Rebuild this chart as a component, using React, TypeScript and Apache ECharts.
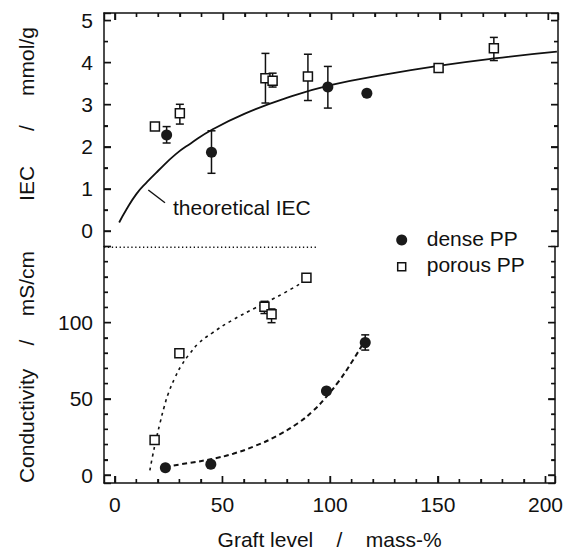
import React, { useEffect, useRef } from 'react';
import * as echarts from 'echarts';

// ---- axis ranges and tick values ----
const X_MIN = -5;
const X_MAX = 204.5;
const IEC_MIN = -0.37;
const IEC_MAX = 5.18;
const COND_MIN = -5.25;
const COND_MAX = 150;
const xTickValues = [0, 50, 100, 150, 200];
const xMinorTickValues = [10, 20, 30, 40, 60, 70, 80, 90, 110, 120, 130, 140, 160, 170, 180, 190];
const iecTickValues = [0, 1, 2, 3, 4, 5];
const iecMinorTickValues = [0.5, 1.5, 2.5, 3.5, 4.5];
const condTickValues = [0, 50, 100];
const condMinorTickValues = [10, 20, 30, 40, 60, 70, 80, 90, 110, 120, 130, 140];

// ---- data: [graft level, value, error low, error high] ----
const denseIEC = [
  [23.9, 2.28, 2.09, 2.48],
  [44.6, 1.87, 1.37, 2.38],
  [98.3, 3.42, 2.92, 3.91],
  [116.3, 3.27, null, null],
];
const porousIEC = [
  [18.5, 2.48, null, null],
  [30, 2.8, 2.54, 3.01],
  [69.5, 3.63, 3.04, 4.22],
  [72.8, 3.57, 3.42, 3.75],
  [89.1, 3.67, 3.1, 4.2],
  [149.4, 3.87, null, null],
  [174.9, 4.34, 4.05, 4.6],
];
const denseCond = [
  [23.5, 4.8, null, null],
  [44.6, 7, null, null],
  [98.3, 55.1, 53.6, 56.6],
  [116.3, 86.9, 82, 92],
];
const porousCond = [
  [18.5, 23, null, null],
  [30, 80, null, null],
  [69.5, 110.5, 106, 114],
  [72.8, 105.5, 100, 109],
  [89, 129.5, 127.5, 131.5],
];

// ---- curves ----
const theoreticalIEC = [
  [2, 0.2], [5, 0.48], [10, 0.88], [15, 1.17], [20, 1.43], [28, 1.82], [35, 2.08],
  [45, 2.41], [60, 2.79], [78, 3.14], [100, 3.47], [125, 3.72], [150, 3.93], [175, 4.1], [204, 4.26],
];
const porousFit = [
  [16.3, 3], [17.5, 12], [19, 22], [21, 34], [23, 45], [25, 54], [28, 64], [31, 72], [35, 80],
  [39, 86.5], [45, 93], [55, 102], [65, 109.5], [78, 119], [89, 128],
];
const denseFit = [
  [23.5, 5.5], [35, 8], [45, 10.5], [55, 14], [65, 19], [75, 25.5], [85, 34], [92, 42],
  [98, 51], [104, 61.5], [110, 74], [116, 88],
];
const separatorLine = [[-5, 149.5], [94, 149.5]];

const FONT = '"Liberation Sans", Arial, Helvetica, sans-serif';
const INK = '#111111';
const MAJOR_LEN = 7;
const MINOR_LEN = 4;

export default function App() {
  const ref = useRef<HTMLDivElement>(null);
  useEffect(() => {
    if (!ref.current) return;
    const chart = echarts.init(ref.current, null, { renderer: 'svg' });

    const errRender = (params: any, api: any) => {
      const lo = api.value(2);
      const hi = api.value(3);
      if (lo == null || hi == null || isNaN(lo) || isNaN(hi)) return null;
      const x = api.value(0);
      const a = api.coord([x, lo]);
      const b = api.coord([x, hi]);
      const w = 4;
      return {
        type: 'group',
        children: [
          { type: 'line', shape: { x1: a[0], y1: a[1], x2: b[0], y2: b[1] }, style: { stroke: INK, lineWidth: 1.5 } },
          { type: 'line', shape: { x1: a[0] - w, y1: a[1], x2: a[0] + w, y2: a[1] }, style: { stroke: INK, lineWidth: 1.5 } },
          { type: 'line', shape: { x1: b[0] - w, y1: b[1], x2: b[0] + w, y2: b[1] }, style: { stroke: INK, lineWidth: 1.5 } },
        ],
      };
    };

    const mkAxisLine = () => ({ show: true, onZero: false, lineStyle: { color: INK, width: 1.5 } });
    const mkTick = () => ({ show: true, inside: true, length: MAJOR_LEN, lineStyle: { color: INK, width: 1.4 } });
    const mkMinor = (n: number) => ({ show: true, splitNumber: n, length: MINOR_LEN, lineStyle: { color: INK, width: 1.3 } });
    const mkLabel = (vals: number[]) => ({
      color: INK, fontSize: 21, fontFamily: FONT, margin: 11,
      formatter: (v: number) => (vals.indexOf(Math.round(v * 1000) / 1000) >= 0 ? String(v) : ''),
    });

    const xAxisOf = (grid: number, pos: string, labels: boolean) => ({
      type: 'value', gridIndex: grid, position: pos, min: X_MIN, max: X_MAX, splitNumber: 5,
      axisLine: mkAxisLine(), axisTick: mkTick(), minorTick: mkMinor(5), splitLine: { show: false },
      axisLabel: labels ? mkLabel(xTickValues) : { show: false },
    });
    const iecAxisOf = (pos: string, labels: boolean) => ({
      type: 'value', gridIndex: 0, position: pos, min: IEC_MIN, max: IEC_MAX, splitNumber: 5,
      axisLine: mkAxisLine(), axisTick: mkTick(), minorTick: mkMinor(2), splitLine: { show: false },
      axisLabel: labels ? mkLabel(iecTickValues) : { show: false },
    });
    const condAxisOf = (pos: string, labels: boolean) => ({
      type: 'value', gridIndex: 1, position: pos, min: COND_MIN, max: COND_MAX, splitNumber: 3,
      axisLine: mkAxisLine(), axisTick: mkTick(), minorTick: mkMinor(5), splitLine: { show: false },
      axisLabel: labels ? mkLabel(condTickValues) : { show: false },
    });

    const option: any = {
      animation: false,
      grid: [
        { left: 104, right: 8, top: 13, height: 233.5 },
        { left: 104, right: 8, top: 246.5, bottom: 70 },
      ],
      xAxis: [
        xAxisOf(0, 'top', false),
        {
          ...xAxisOf(1, 'bottom', true),
          name: 'Graft level    /    mass-%', nameLocation: 'middle', nameGap: 46,
          nameTextStyle: { color: INK, fontSize: 21, fontFamily: FONT },
        },
      ],
      yAxis: [iecAxisOf('left', true), iecAxisOf('right', false), condAxisOf('left', true), condAxisOf('right', false)],
      series: [
        {
          type: 'line', name: 'theoretical IEC', xAxisIndex: 0, yAxisIndex: 0, data: theoreticalIEC,
          smooth: true, showSymbol: false, lineStyle: { color: INK, width: 1.8 }, silent: true, z: 2,
        },
        {
          type: 'line', name: 'separator', xAxisIndex: 1, yAxisIndex: 2, data: separatorLine, clip: false,
          showSymbol: false, lineStyle: { color: INK, width: 1.3, type: [1.3, 2.6] }, silent: true,
        },
        {
          type: 'line', name: 'porous fit', xAxisIndex: 1, yAxisIndex: 2, data: porousFit,
          smooth: true, showSymbol: false, lineStyle: { color: INK, width: 1.6, type: [3, 4] }, silent: true, z: 2,
        },
        {
          type: 'line', name: 'dense fit', xAxisIndex: 1, yAxisIndex: 2, data: denseFit,
          smooth: true, showSymbol: false, lineStyle: { color: INK, width: 2, type: [5, 3.5] }, silent: true, z: 2,
        },
        { type: 'custom', xAxisIndex: 0, yAxisIndex: 0, data: denseIEC, renderItem: errRender, encode: { x: 0, y: 1 }, z: 3 },
        { type: 'custom', xAxisIndex: 0, yAxisIndex: 0, data: porousIEC, renderItem: errRender, encode: { x: 0, y: 1 }, z: 3 },
        { type: 'custom', xAxisIndex: 1, yAxisIndex: 2, data: denseCond, renderItem: errRender, encode: { x: 0, y: 1 }, z: 3 },
        { type: 'custom', xAxisIndex: 1, yAxisIndex: 2, data: porousCond, renderItem: errRender, encode: { x: 0, y: 1 }, z: 3 },
        {
          type: 'scatter', name: 'dense PP', xAxisIndex: 0, yAxisIndex: 0, data: denseIEC.map((d) => [d[0], d[1]]),
          symbol: 'circle', symbolSize: 11, itemStyle: { color: '#1a1a1a', opacity: 1 }, z: 4,
        },
        {
          type: 'scatter', name: 'porous PP', xAxisIndex: 0, yAxisIndex: 0, data: porousIEC.map((d) => [d[0], d[1]]),
          symbol: 'rect', symbolSize: 9, itemStyle: { color: '#ffffff', borderColor: INK, borderWidth: 1.5, opacity: 1 }, z: 4,
        },
        {
          type: 'scatter', name: 'dense PP', xAxisIndex: 1, yAxisIndex: 2, data: denseCond.map((d) => [d[0], d[1]]),
          symbol: 'circle', symbolSize: 11, itemStyle: { color: '#1a1a1a', opacity: 1 }, z: 4,
        },
        {
          type: 'scatter', name: 'porous PP', xAxisIndex: 1, yAxisIndex: 2, data: porousCond.map((d) => [d[0], d[1]]),
          symbol: 'rect', symbolSize: 9, itemStyle: { color: '#ffffff', borderColor: INK, borderWidth: 1.5, opacity: 1 }, z: 4,
        },
      ],
    };
    chart.setOption(option);

    // ---- extra frame ticks through the axes' scales (same places as the axis ticks) ----
    const g0 = { xAxisIndex: 0, yAxisIndex: 0 };
    const g1 = { xAxisIndex: 1, yAxisIndex: 2 };
    const ticks: any[] = [];
    const line = (x1: number, y1: number, x2: number, y2: number) => ({
      type: 'line', shape: { x1, y1, x2, y2 }, style: { stroke: INK, lineWidth: 1.4 },
    });
    const addX = (vals: number[], len: number) => {
      vals.forEach((v) => {
        const t = chart.convertToPixel({ ...g0 }, [v, IEC_MAX]) as number[];
        const b = chart.convertToPixel({ ...g1 }, [v, COND_MIN]) as number[];
        ticks.push(line(t[0], t[1], t[0], t[1] + len));
        ticks.push(line(b[0], b[1], b[0], b[1] - len));
      });
    };
    const addY = (finder: any, vals: number[], len: number) => {
      vals.forEach((v) => {
        const l = chart.convertToPixel({ ...finder }, [X_MIN, v]) as number[];
        const r = chart.convertToPixel({ ...finder }, [X_MAX, v]) as number[];
        ticks.push(line(l[0], l[1], l[0] + len, l[1]));
        ticks.push(line(r[0], r[1], r[0] - len, r[1]));
      });
    };
    addX(xTickValues, MAJOR_LEN);
    addX(xMinorTickValues, MINOR_LEN);
    addY(g0, iecTickValues, MAJOR_LEN);
    addY(g0, iecMinorTickValues, MINOR_LEN);
    addY(g1, condTickValues, MAJOR_LEN);
    addY(g1, condMinorTickValues, MINOR_LEN);

    const txt = (text: string, align: string) => ({
      text, fill: INK, fontSize: 21, fontFamily: FONT, align, verticalAlign: 'middle',
    });
    const labels: any[] = [
      { type: 'text', x: 26, y: 114, rotation: Math.PI / 2, style: txt('IEC      /     mmol/g', 'center') },
      { type: 'text', x: 26, y: 367, rotation: Math.PI / 2, style: txt('Conductivity    /    mS/cm', 'center') },
      line(148.3, 190, 165, 202.7),
      { type: 'text', x: 173, y: 207, style: txt('theoretical IEC', 'left') },
      { type: 'circle', shape: { cx: 401.7, cy: 240, r: 5.5 }, style: { fill: '#1a1a1a' } },
      { type: 'text', x: 426.7, y: 238, style: txt('dense PP', 'left') },
      { type: 'rect', shape: { x: 397.7, y: 262.7, width: 8, height: 8 }, style: { fill: '#ffffff', stroke: INK, lineWidth: 1.5 } },
      { type: 'text', x: 426.7, y: 264.5, style: txt('porous PP', 'left') },
    ];
    chart.setOption({ graphic: [...ticks, ...labels] });
    return () => chart.dispose();
  }, []);
  return <div ref={ref} style={{ width: 566, height: 553, position: 'absolute', left: 0, top: 0 }} />;
}
